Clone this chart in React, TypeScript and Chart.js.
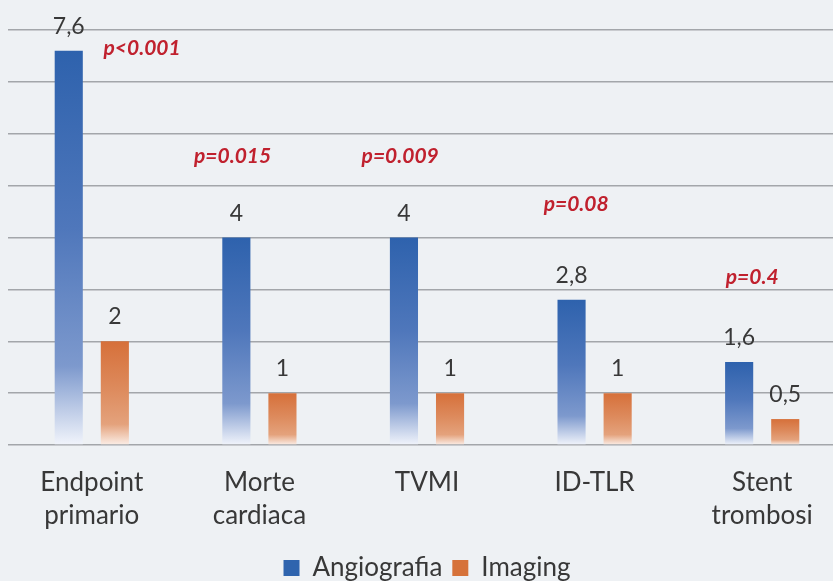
import React, { useEffect, useRef } from "react";
import { Chart, registerables } from "chart.js";

Chart.register(...registerables);

const categories: string[][] = [
  ["Endpoint", "primario"],
  ["Morte", "cardiaca"],
  ["TVMI"],
  ["ID-TLR"],
  ["Stent", "trombosi"],
];
const angiografia = [7.6, 4, 4, 2.8, 1.6];
const imaging = [2, 1, 1, 1, 0.5];
const pValues = ["p<0.001", "p=0.015", "p=0.009", "p=0.08", "p=0.4"];
const yMax = 8;
const yStep = 1;

// annotation placement (category offset in fractions of a category, height in axis units)
const pOffsetX = [0.3, -0.16, -0.16, -0.11, -0.06];
const pLevel = [7.65, 5.56, 5.56, 4.65, 3.24];

const BLUE = "#2f64ae";
const ORANGE = "#d6723a";
const TEXT = "#383838";
const RED = "#c0212e";
const FONT = "Lato, 'Open Sans', sans-serif";

const blueStops: [number, string][] = [
  [0, "#2e62ad"],
  [0.45, "#4f77bb"],
  [0.8, "#7d99cd"],
  [1, "#f1f4fb"],
];
const orangeStops: [number, string][] = [
  [0, "#d6703a"],
  [0.45, "#dd8a5c"],
  [0.8, "#e4a27c"],
  [1, "#fbeee7"],
];

function gradient(stops: [number, string][], solid: string) {
  return (ctx: any) => {
    const chart = ctx.chart;
    const y = chart.scales && chart.scales.y;
    if (!y || ctx.raw == null || ctx.type !== "data") return solid;
    const top = y.getPixelForValue(ctx.raw);
    const bottom = y.getPixelForValue(0);
    if (!isFinite(top) || !isFinite(bottom) || top === bottom) return solid;
    const g = chart.ctx.createLinearGradient(0, top, 0, bottom);
    stops.forEach(([o, c]) => g.addColorStop(o, c));
    return g;
  };
}

const labelsPlugin = {
  id: "valueLabels",
  afterDatasetsDraw(chart: any) {
    const c = chart.ctx;
    c.save();
    c.font = `23px ${FONT}`;
    c.fillStyle = TEXT;
    c.textAlign = "center";
    c.textBaseline = "alphabetic";
    chart.data.datasets.forEach((ds: any, di: number) => {
      const meta = chart.getDatasetMeta(di);
      meta.data.forEach((el: any, i: number) => {
        const v = ds.data[i];
        c.fillText(String(v).replace(".", ","), el.x, el.y - 17);
      });
    });
    const xs = chart.scales.x;
    const ys = chart.scales.y;
    const catW = xs.width / categories.length;
    c.font = `italic bold 21px ${FONT}`;
    c.fillStyle = RED;
    c.textBaseline = "middle";
    pValues.forEach((p, i) => {
      const x = xs.getPixelForValue(i) + pOffsetX[i] * catW;
      const y = ys.getPixelForValue(pLevel[i]);
      c.fillText(p, x, y);
    });
    c.restore();
  },
};

export default function App() {
  const ref = useRef<HTMLCanvasElement>(null);
  useEffect(() => {
    if (!ref.current) return;
    const chart = new Chart(ref.current, {
      type: "bar",
      data: {
        labels: categories,
        datasets: [
          {
            label: "Angiografia",
            data: angiografia,
            backgroundColor: gradient(blueStops, BLUE),
            borderWidth: 0,
            categoryPercentage: 0.55,
            barPercentage: 0.61,
          },
          {
            label: "Imaging",
            data: imaging,
            backgroundColor: gradient(orangeStops, ORANGE),
            borderWidth: 0,
            categoryPercentage: 0.55,
            barPercentage: 0.61,
          },
        ],
      },
      options: {
        responsive: false,
        animation: false,
        layout: { padding: { left: 8, top: 30, right: 0, bottom: 0 } },
        plugins: {
          legend: {
            position: "bottom",
            labels: {
              boxWidth: 16,
              boxHeight: 16,
              color: TEXT,
              padding: 10,
              font: { family: FONT, size: 26 },
              generateLabels: (chart: any) =>
                Chart.defaults.plugins.legend.labels
                  .generateLabels(chart)
                  .map((l: any) => ({
                    ...l,
                    fillStyle: l.datasetIndex === 0 ? BLUE : ORANGE,
                    strokeStyle: l.datasetIndex === 0 ? BLUE : ORANGE,
                    lineWidth: 0,
                  })),
            },
          },
          tooltip: { enabled: false },
        },
        scales: {
          x: {
            grid: { display: false, drawTicks: false },
            border: { display: false },
            ticks: {
              color: TEXT,
              padding: 21,
              font: { family: FONT, size: 26, lineHeight: 1.27 },
              maxRotation: 0,
              autoSkip: false,
            },
            afterFit: (s: any) => {
              s.height = 100;
            },
          },
          y: {
            min: 0,
            max: yMax,
            ticks: { display: false, stepSize: yStep },
            grid: { color: "#a3a6aa", lineWidth: 1.5, drawTicks: false },
            border: { display: false },
            afterFit: (s: any) => {
              s.width = 0;
            },
          },
        },
      },
      plugins: [labelsPlugin],
    });
    return () => chart.destroy();
  }, []);
  return (
    <div
      style={{
        position: "fixed",
        left: 0,
        top: 0,
        width: 833,
        height: 581,
        overflow: "hidden",
        background: "#eef1f4",
      }}
    >
      <canvas ref={ref} width={846} height={591} style={{ width: 846, height: 591, display: "block" }} />
    </div>
  );
}
